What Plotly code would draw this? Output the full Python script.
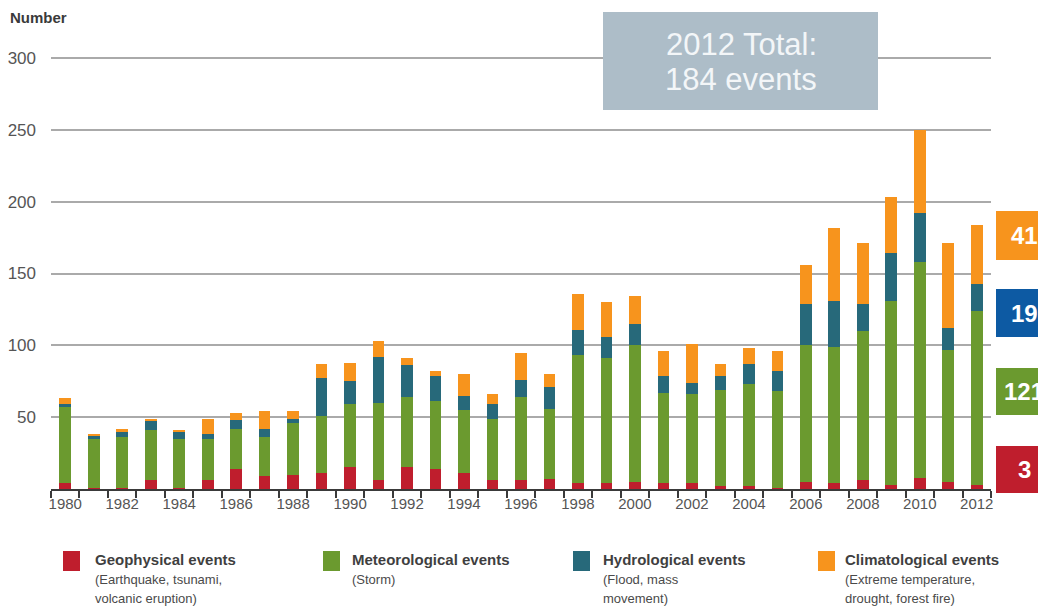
import plotly.graph_objects as go

years = list(range(1980, 2013))
geophysical = [4, 1, 1, 6, 1, 6, 14, 9, 10, 11, 15, 6, 15, 14, 11, 6, 6, 7, 4, 4, 5, 4, 4, 2, 2, 1, 5, 4, 6, 3, 8, 5, 3]
meteorological = [53, 34, 35, 35, 34, 29, 28, 27, 36, 40, 44, 54, 49, 47, 44, 43, 58, 49, 89, 87, 95, 63, 62, 67, 71, 67, 95, 95, 104, 128, 150, 92, 121]
hydrological = [2, 2, 4, 6, 5, 3, 6, 6, 3, 26, 16, 32, 22, 18, 10, 10, 12, 15, 18, 15, 15, 12, 8, 10, 14, 14, 29, 32, 19, 33, 34, 15, 19]
climatological = [4, 1, 2, 2, 1, 11, 5, 12, 5, 10, 13, 11, 5, 3, 15, 7, 19, 9, 25, 24, 19, 17, 27, 8, 11, 14, 27, 51, 42, 39, 58, 59, 41]

series_names = ["Geophysical events", "Meteorological events", "Hydrological events", "Climatological events"]
series_notes = [["(Earthquake, tsunami,", "volcanic eruption)"], ["(Storm)"], ["(Flood, mass", "movement)"],
                ["(Extreme temperature,", "drought, forest fire)"]]
colors = ["#bf1e2d", "#6b9a2f", "#27697a", "#f7941d"]
box_blue = "#0d5aa3"
xtick_years = list(range(1980, 2013, 2))
ytick_vals = [50, 100, 150, 200, 250, 300]
title_lines = ["2012 Total:", "184 events"]

# page has an 8px body margin: figure is drawn 8px right/down of the screenshot origin
OFF = 8
W, H = 1046 - OFF, 608 - OFF
# plot area in screenshot pixels (300 sits at y=58, 0 at y=489)
SCALE = 431.0 / 300
YMAX = 305
L, R, B = 51, 991, 489
T = round(B - YMAX * SCALE)
YMAX = (B - T) / SCALE


def px(x):
    return (x - L) / (R - L)


def py(y):
    return (B - y) / (B - T)


fig = go.Figure()
for name, vals, col in zip(series_names, [geophysical, meteorological, hydrological, climatological], colors):
    fig.add_trace(go.Bar(x=years, y=vals, name=name, marker=dict(color=col, line=dict(width=0)),
                         width=0.41, showlegend=False))

font = "Liberation Sans, Arial, sans-serif"
shapes = []
annotations = []

# Title box
shapes.append(dict(type="rect", xref="paper", yref="paper", x0=px(603), x1=px(878), y0=py(110), y1=py(12),
                   fillcolor="#adbdc8", line=dict(width=0), layer="above"))
for line, yc in zip(title_lines, [45, 80]):
    annotations.append(dict(xref="paper", yref="paper", x=px(741), y=py(yc), text=line,
                            showarrow=False, font=dict(family=font, size=31, color="#f3f6f8"),
                            xanchor="center", yanchor="middle"))

# Y label
annotations.append(dict(xref="paper", yref="paper", x=px(8), y=py(17), text="<b>Number</b>", showarrow=False,
                        font=dict(family=font, size=15, color="#3a3a3a"), xanchor="left", yanchor="middle"))

# Right-side 2012 boxes
right_boxes = [(str(climatological[-1]), colors[3], 211, 260),
               (str(hydrological[-1]), box_blue, 289, 337),
               (str(meteorological[-1]), colors[1], 368, 415),
               (str(geophysical[-1]), colors[0], 446, 493)]
for txt, col, y0, y1 in right_boxes:
    shapes.append(dict(type="rect", xref="paper", yref="paper", x0=px(996), x1=px(1052), y0=py(y1), y1=py(y0),
                       fillcolor=col, line=dict(width=0), layer="above"))
    annotations.append(dict(xref="paper", yref="paper", x=px(1024), y=py((y0 + y1) / 2), text="<b>%s</b>" % txt,
                            showarrow=False, font=dict(family=font, size=24, color="white"),
                            xanchor="center", yanchor="middle"))

# Custom legend
legend_x = [(63, 93), (323, 350), (573, 601), (818, 843)]
for (sx, tx), name, notes, col in zip(legend_x, series_names, series_notes, colors):
    shapes.append(dict(type="rect", xref="paper", yref="paper", x0=px(sx), x1=px(sx + 17), y0=py(571), y1=py(551),
                       fillcolor=col, line=dict(width=0)))
    annotations.append(dict(xref="paper", yref="paper", x=px(tx), y=py(559), text="<b>%s</b>" % name,
                            showarrow=False, font=dict(family=font, size=15, color="#3f3f3f"),
                            xanchor="left", yanchor="middle", align="left"))
    for i, note in enumerate(notes):
        annotations.append(dict(xref="paper", yref="paper", x=px(tx), y=py(579 + 19 * i), text=note,
                                showarrow=False, font=dict(family=font, size=13, color="#4a4a4a"),
                                xanchor="left", yanchor="middle", align="left"))

fig.update_layout(
    barmode="stack",
    width=W, height=H,
    margin=dict(l=L - OFF, r=W + OFF - R, t=T - OFF, b=H + OFF - B, pad=0, autoexpand=False),
    paper_bgcolor="white", plot_bgcolor="white",
    font=dict(family=font),
    shapes=shapes, annotations=annotations,
    xaxis=dict(range=[1979.5, 2012.5], tickmode="array", tickvals=xtick_years, automargin=False,
               ticktext=[str(y) for y in xtick_years], ticks="", showgrid=False, zeroline=False,
               showline=True, linecolor="#3a3a3a", linewidth=1.5,
               tickfont=dict(size=15, color="#555555"),
               minor=dict(ticks="outside", tickmode="linear", tick0=1979.5, dtick=1, ticklen=7,
                          tickcolor="#3a3a3a", tickwidth=1.5, showgrid=False)),
    yaxis=dict(range=[0, YMAX], tickmode="array", tickvals=ytick_vals, showgrid=True, gridcolor="#aaaaaa",
               gridwidth=1.5, zeroline=False, showline=False, ticks="", ticklabelstandoff=14, automargin=False,
               tickfont=dict(size=17, color="#555555")),
)

fig.write_html("out.html")
